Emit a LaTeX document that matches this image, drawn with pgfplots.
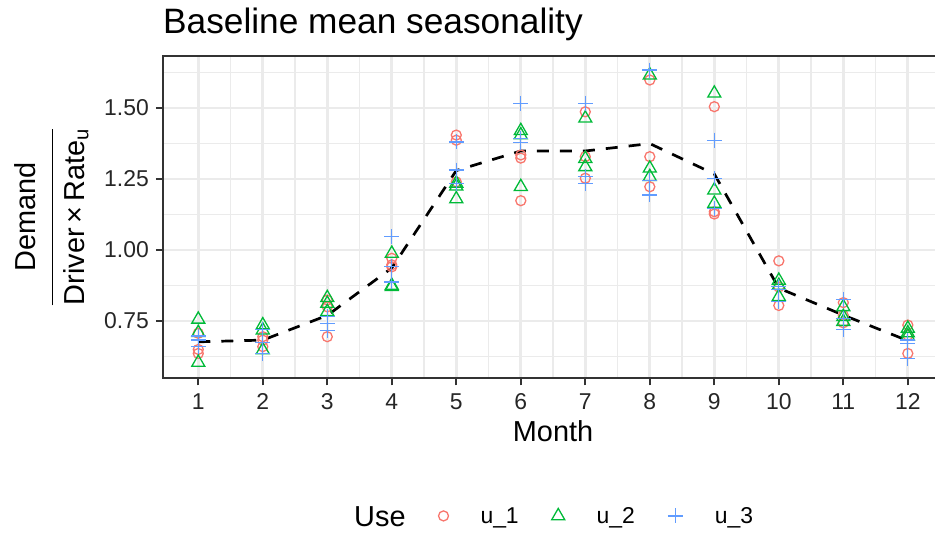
\documentclass[border=0pt]{standalone}
\usepackage{fontspec}
\setmainfont{Liberation Sans}
\usepackage{pgfplots}
\pgfplotsset{compat=1.18}
\definecolor{cR}{HTML}{F8766D}
\definecolor{cG}{HTML}{00BA38}
\definecolor{cB}{HTML}{619CFF}
\definecolor{gridc}{HTML}{EBEBEB}
\definecolor{g20}{HTML}{333333}
\newcommand\ylab{\setbox0\hbox{Driver\,×\,Rate\textsubscript{u}}%
  \vbox{\hbox to \wd0{\hss Demand\hss}\kern 15.8bp\hrule height 1.8bp\kern 10.5bp\box0}}
\begin{document}
\begin{tikzpicture}
\useasboundingbox (0,0) rectangle (935bp,533bp);
\clip (0,0) rectangle (935bp,533bp);
\begin{axis}[
  at={(162.8bp,154.7bp)}, anchor=south west,
  scale only axis, width=780.5bp, height=322.3bp,
  xmin=0.45, xmax=12.55, ymin=0.5485, ymax=1.6835,
  xtick={1,2,3,4,5,6,7,8,9,10,11,12},
  ytick={0.75,1,1.25,1.5},
  minor xtick={1.5,2.5,3.5,4.5,5.5,6.5,7.5,8.5,9.5,10.5,11.5},
  minor ytick={0.625,0.875,1.125,1.375,1.625},
  grid=both,
  major grid style={gridc, line width=2.7bp},
  minor grid style={gridc, line width=1.4bp},
  axis line style={g20, line width=1.8bp},
  tick align=outside, tick pos=left,
  major tick length=7bp, minor tick length=0pt,
  major tick style={g20, line width=2.2bp},
  xticklabel shift=5bp, yticklabel shift=3.5bp,
  /pgf/number format/assume math mode=true,
  ticklabel style={font=\fontsize{23}{27}\selectfont, text=black!85},
  y tick label style={/pgf/number format/.cd, fixed, fixed zerofill, precision=2},
  xlabel={Month},
  xlabel style={font=\fontsize{29}{34}\selectfont, at={(axis description cs:0.5,-0.1976)}, anchor=base},
  ylabel={\ylab},
  ylabel style={font=\fontsize{29}{34}\selectfont, at={(axis description cs:-0.1425,0.5)}, anchor=center, inner sep=0pt},
  legend image code/.code={\draw[#1] plot coordinates {(0bp,0bp)};},
  legend style={at={(axis description cs:0.353,-0.427)}, anchor=west, draw=none, fill=none,
    legend columns=-1, inner sep=0pt, font=\fontsize{23}{27}\selectfont,
    nodes={inner sep=0pt},
    /tikz/every odd column/.append style={column sep=32bp},
    /tikz/every even column/.append style={column sep=33bp}},
  clip=false,
]
\addplot[only marks, mark=o, mark size=5bp, cR, line width=1.3bp] coordinates {
(1,0.707)(1,0.650)(1,0.636)
(2,0.695)(2,0.683)(2,0.660)
(3,0.824)(3,0.800)(3,0.695)
(4,0.971)(4,0.948)(4,0.941)
(5,1.405)(5,1.387)(5,1.240)
(6,1.335)(6,1.324)(6,1.174)
(7,1.487)(7,1.329)(7,1.253)
(8,1.599)(8,1.329)(8,1.223)
(9,1.505)(9,1.135)(9,1.127)
(10,0.962)(10,0.870)(10,0.805)
(11,0.815)(11,0.770)(11,0.744)
(12,0.736)(12,0.700)(12,0.636)
};
\addlegendentry{u\_1}
\addplot[only marks, mark=triangle, mark size=7.5bp, cG, line width=1.3bp] coordinates {
(1,0.756)(1,0.709)(1,0.604)
(2,0.736)(2,0.718)(2,0.648)
(3,0.832)(3,0.812)(3,0.783)
(4,0.988)(4,0.875)(4,0.871)
(5,1.235)(5,1.225)(5,1.180)
(6,1.420)(6,1.405)(6,1.223)
(7,1.464)(7,1.322)(7,1.293)
(8,1.616)(8,1.288)(8,1.258)
(9,1.552)(9,1.211)(9,1.164)
(10,0.893)(10,0.875)(10,0.836)
(11,0.800)(11,0.765)(11,0.748)
(12,0.724)(12,0.708)(12,0.697)
};
\addlegendentry{u\_2}
\addplot[only marks, mark=+, mark size=7.5bp, cB, line width=1.3bp] coordinates {
(1,0.697)(1,0.683)(1,0.660)
(2,0.721)(2,0.674)(2,0.636)
(3,0.765)(3,0.742)(3,0.718)
(4,1.047)(4,0.941)(4,0.888)
(5,1.381)(5,1.282)(5,1.235)
(6,1.517)(6,1.393)(6,1.380)
(7,1.517)(7,1.258)(7,1.235)
(8,1.634)(8,1.246)(8,1.194)
(9,1.387)(9,1.252)(9,1.147)
(10,0.872)(10,0.862)(10,0.820)
(11,0.826)(11,0.760)(11,0.721)
(12,0.683)(12,0.671)(12,0.619)
};
\addlegendentry{u\_3}
\addplot[forget plot, black, line width=2.7bp, dash pattern=on 12bp off 11bp] coordinates {
(1,0.677)(2,0.683)(3,0.770)(4,0.937)(5,1.280)(6,1.349)
(7,1.349)(8,1.375)(9,1.268)(10,0.866)(11,0.771)(12,0.681)
};
\end{axis}
\node[anchor=base west, inner sep=0pt, font=\fontsize{35.4}{42}\selectfont] at (163bp,499bp) {Baseline mean seasonality};
\node[anchor=base west, inner sep=0pt, font=\fontsize{29}{34}\selectfont] at (354bp,7bp) {Use};
\end{tikzpicture}
\end{document}
